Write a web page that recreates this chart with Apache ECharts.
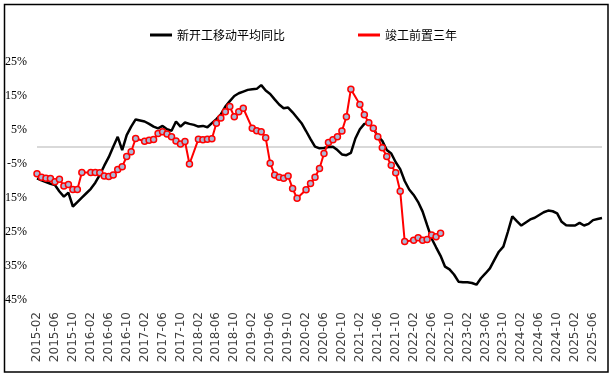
<!DOCTYPE html>
<html>
<head>
<meta charset="utf-8">
<script src="https://cdn.jsdelivr.net/npm/echarts@6/dist/echarts.min.js"></script>
<style>
html,body{margin:0;padding:0;background:#fff;}
#chart{width:615px;height:378px;}
</style>
</head>
<body>
<div id="chart"></div>
<script>
// Categories: monthly, 2015-02 .. 2025-08
const startYear = 2015, startMonth = 2, monthCount = 127;
const categories = [];
for (let k = 0; k < monthCount; k++) {
  const m = startMonth - 1 + k;
  const y = startYear + Math.floor(m / 12);
  const mm = (m % 12) + 1;
  categories.push(y + '-' + (mm < 10 ? '0' + mm : mm));
}

const seriesNames = ['新开工移动平均同比', '竣工前置三年'];

// 新开工移动平均同比 (%)
const newStartsMA = [
  -9.2, -9.8, -10.3, -10.8, -11.2, -13.1, -14.6, -13.4, -17.5, -16.2, -14.9, -13.6,
  -12.3, -10.5, -8.2, -5.5, -3.0, 0.1, 3.0, -0.9, 3.5, 6.0, 8.1, 7.8,
  7.5, 6.8, 6.0, 5.5, 6.2, 5.2, 4.8, 7.5, 6.0, 7.2, 6.8, 6.5,
  6.0, 6.2, 5.8, 7.0, 8.2, 9.6, 11.9, 13.5, 15.0, 15.8, 16.3, 16.8,
  17.0, 17.1, 18.2, 16.6, 15.6, 14.0, 12.5, 11.4, 11.6, 10.2, 8.6, 7.0,
  4.7, 2.3, 0.1, -0.4, -0.3, 0.0, 0.1, -0.9, -2.2, -2.4, -1.7, 2.5,
  5.2, 6.8, 7.0, 5.5, 3.2, 1.8, -0.9, -1.9, -4.5, -6.5, -10.0, -12.5,
  -14.1, -16.2, -19.0, -23.0, -26.9, -29.5, -32.0, -35.2, -36.0, -37.5, -39.6, -39.8,
  -39.8, -40.0, -40.5, -38.6, -37.2, -35.7, -33.2, -30.8, -29.3, -25.0, -20.4, -21.8,
  -23.1, -22.2, -21.3, -20.8, -20.0, -19.2, -18.7, -18.9, -19.5, -22.0, -23.0, -23.1,
  -23.1, -22.3, -23.1, -22.6, -21.5, -21.2, -20.9
];

// 竣工前置三年 (%), January values not published (null)
const completionLead3y = [
  -7.9, -8.9, -9.2, -9.3, -10.2, -9.5, -11.5, -11.0, -12.5, -12.5, -7.5, null,
  -7.5, -7.5, -7.6, -8.5, -8.7, -8.2, -6.6, -5.8, -2.8, -1.4, 2.5, null,
  1.7, 2.0, 2.2, 4.0, 4.5, 3.8, 3.0, 1.8, 0.9, 1.6, -5.0, null,
  2.3, 2.1, 2.3, 2.4, 7.0, 8.5, 10.4, 11.9, 8.9, 10.4, 11.4, null,
  5.5, 4.8, 4.5, 2.7, -4.8, -8.2, -8.9, -9.2, -8.5, -12.2, -15.1, null,
  -12.6, -10.7, -8.9, -6.3, -1.9, 1.3, 2.1, 3.0, 4.7, 8.9, 17.0, null,
  12.5, 9.5, 7.1, 5.5, 3.0, -0.2, -2.8, -5.4, -7.6, -13.0, -27.8, null,
  -27.4, -26.7, -27.4, -27.2, -25.9, -26.4, -25.4
];

// Y tick labels as shown on the chart
const yTickValues = [25, 15, 5, -5, -15, -25, -35, -45];
const yTickLabels = ['25%', '15%', '5%', '-5%', '15%', '25%', '35%', '45%'];

const chart = echarts.init(document.getElementById('chart'), null, {renderer: 'canvas'});
chart.setOption({
  animation: false,
  backgroundColor: '#ffffff',
  graphic: [{
    type: 'rect',
    shape: {x: 4.5, y: 4.5, width: 603.5, height: 367.5},
    style: {fill: 'none', stroke: '#000000', lineWidth: 1.5},
    silent: true,
    z: 100
  }],
  legend: {
    left: 145,
    top: 24,
    itemWidth: 22,
    itemHeight: 3,
    itemGap: 73,
    textStyle: {fontFamily: 'Noto Sans CJK SC', fontSize: 12, color: '#000'},
    data: [
      {name: seriesNames[0], icon: 'rect', itemStyle: {color: '#000000', borderWidth: 0}},
      {name: seriesNames[1], icon: 'rect', itemStyle: {color: '#ff0000', borderWidth: 0}}
    ]
  },
  grid: {left: 37, right: 13, top: 62, bottom: 78, containLabel: false},
  xAxis: {
    type: 'category',
    data: categories,
    boundaryGap: false,
    axisLine: {show: false},
    axisTick: {show: false},
    splitLine: {show: false},
    axisLabel: {
      interval: 3,
      rotate: 90,
      margin: 12,
      fontFamily: 'DejaVu Sans',
      fontSize: 12,
      color: '#404040'
    }
  },
  yAxis: {
    type: 'value',
    min: -45,
    max: 25,
    interval: 5,
    axisLine: {show: false},
    axisTick: {show: false},
    splitLine: {show: false},
    axisLabel: {
      margin: 10,
      fontFamily: 'Liberation Serif',
      fontSize: 12,
      color: '#000',
      formatter: function (v) {
        const idx = yTickValues.indexOf(Math.round(v));
        return idx >= 0 ? yTickLabels[idx] : '';
      }
    }
  },
  series: [
    {
      name: seriesNames[0],
      type: 'line',
      data: newStartsMA,
      symbol: 'none',
      color: '#000000',
      lineStyle: {color: '#000000', width: 2.5},
      connectNulls: true,
      z: 2,
      markLine: {
        silent: true,
        symbol: ['none', 'none'],
        label: {show: false},
        lineStyle: {color: '#d9d9d9', width: 2, type: 'solid'},
        data: [{yAxis: 0}],
        z: 1
      }
    },
    {
      name: seriesNames[1],
      type: 'line',
      data: completionLead3y,
      symbol: 'circle',
      symbolSize: 6,
      showAllSymbol: true,
      color: '#ff0000',
      lineStyle: {color: '#ff0000', width: 2},
      itemStyle: {color: '#aab8d6', borderColor: '#ff0000', borderWidth: 1.5},
      connectNulls: true,
      z: 3
    }
  ]
});
</script>
</body>
</html>
